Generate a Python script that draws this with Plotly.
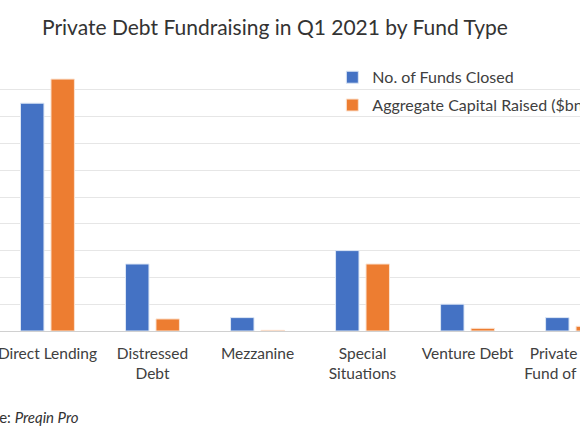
import plotly.graph_objects as go

# Datos
fund_types = ["Direct Lending", "Distressed<br>Debt", "Mezzanine",
              "Special<br>Situations", "Venture Debt", "Private Debt<br>Fund of Funds"]
funds_closed = [17, 5, 1, 6, 2, 1]
capital_raised = [18.8, 0.9, 0.05, 5.0, 0.2, 0.35]

fig = go.Figure()
fig.add_trace(go.Bar(x=fund_types, y=funds_closed, name="No. of Funds Closed",
                     legendgroup="a",
                     marker=dict(color="#4472C4", line=dict(color="#dce6f5", width=1))))
fig.add_trace(go.Bar(x=fund_types, y=capital_raised, name="Aggregate Capital Raised ($bn)",
                     legendgroup="b",
                     marker=dict(color="#ED7D31", line=dict(color="#fbe2d0", width=1))))

fig.update_layout(
    width=580, height=435,
    margin=dict(l=0, r=0, t=63, b=104, autoexpand=False),
    plot_bgcolor="white", paper_bgcolor="white",
    font=dict(family="Lato", size=14, color="#404040"),
    title=dict(text="Private Debt Fundraising in Q1 2021 by Fund Type",
               x=42/580, xanchor="left", y=0.937, yanchor="middle",
               font=dict(size=21, color="#333333")),
    barmode="group", bargap=0.42, bargroupgap=0.23,
    showlegend=True,
    legend=dict(x=0.573, y=1.01, xanchor="left", yanchor="top",
                bgcolor="rgba(0,0,0,0)", font=dict(size=16, color="#404040"),
                itemwidth=30, tracegroupgap=4),
)
fig.update_xaxes(range=[-0.452, 5.071], showline=True, linecolor="#d0d0d0",
                 ticks="", automargin=False, ticklabelstandoff=8,
                 tickfont=dict(size=15.5, color="#404040"))
fig.update_yaxes(range=[0, 20], dtick=2, showticklabels=False, automargin=False,
                 gridcolor="#e6e6e6", zeroline=False)

fig.add_annotation(text="Source: <i>Preqin Pro</i>", xref="paper", yref="paper",
                   x=81/580, y=-0.322, xanchor="right", yanchor="middle",
                   showarrow=False, font=dict(size=15, color="#333333"))

fig.write_html("out.html", config={"displayModeBar": False},
               post_script="document.body.style.margin='0';")
